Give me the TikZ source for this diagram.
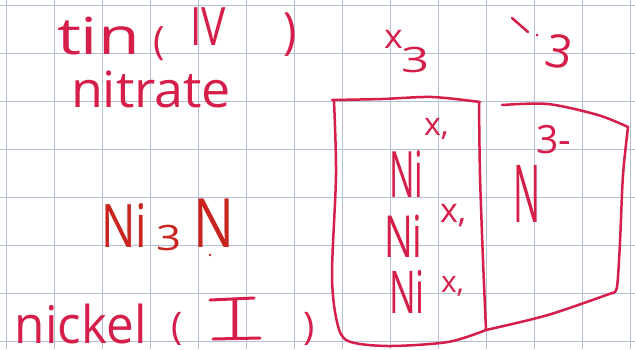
\documentclass[tikz,border=0pt]{standalone}
\usepackage{fontspec}
\setmainfont{Open Sans}
\definecolor{ink}{RGB}{214,30,74}
\definecolor{inktwo}{RGB}{200,36,32}
\definecolor{gridc}{RGB}{182,190,214}
\newcommand\hw[3]{\fontsize{#1}{#1}\selectfont\scalebox{#2}[1]{#3}}
\newcommand\nodepth[1]{\raisebox{0pt}[\height][0pt]{#1}}
\tikzset{
  hw/.style={text=ink, inner sep=0pt, outer sep=0pt, anchor=base west},
  pen/.style={draw=ink, line width=2.5pt, line cap=round, line join=round},
  gridline/.style={draw=gridc, line width=0.8pt}
}
\begin{document}
\begin{tikzpicture}[x=1pt,y=-1pt]
\useasboundingbox (0,0) rectangle (635,349);
\fill[white] (0,0) rectangle (635,349);
% grid
\foreach \i in {0,...,13} \draw[gridline] ({6+48*\i},0) -- ({6+48*\i},349);
\foreach \j in {0,...,7} \draw[gridline] (0,{5+48*\j}) -- (635,{5+48*\j});
% left column
\node[hw] (tin) at (57,54) {\hw{51}{1.33}{tin}};
\node[hw] (lpa) at (153,54) {\hw{39}{1}{(}};
\node[hw] (iv) at (190,45) {\hw{53}{0.77}{IV}};
\node[hw] (rpa) at (283,48) {\hw{50}{0.9}{)}};
\node[hw] (nitrate) at (71,107) {\hw{50}{1.04}{nitrate}};
\node[hw, text=inktwo] (nia) at (101,247) {\hw{60}{0.76}{Ni}};
\node[hw, text=inktwo] (three) at (156,250) {\hw{35}{1.25}{3}};
\node[hw, text=inktwo] (nn) at (193,247) {\hw{68}{0.8}{N}};
\fill[inktwo] (210,255) circle (1.3);
\node[hw] (nickel) at (15,343) {\hw{52}{0.95}{\nodepth{nickel}}};
\node[hw] (lpb) at (171,339) {\hw{38}{1}{\nodepth{(}}};
\node[hw, anchor=base] (one) at (235,339) {\hw{56}{1}{\nodepth{I}}};
\draw[pen, line width=3pt] (210,300) -- (254,298);
\draw[pen, line width=3pt] (213,339) -- (260,338);
\node[hw] (rpb) at (303,339) {\hw{38}{1}{\nodepth{)}}};
% top labels
\node[hw] (xa) at (384,48) {\hw{34}{1.05}{x}};
\node[hw] (xthree) at (401,72) {\hw{35}{1.4}{3}};
\draw[pen] (512,18) -- (528,32);
\fill[ink] (537,35) circle (1.5);
\node[hw, rotate=-10] (cthree) at (543,65) {\hw{46}{1}{3}};
% boxes
\draw[pen] plot[smooth] coordinates {(480,102) (432,97) (382,99) (332,100)};
\draw[pen] plot[smooth] coordinates {(334,101) (336,175) (332,275) (337,322) (348,341) (388,346) (448,342) (486,330)};
\draw[pen] plot[smooth] coordinates {(479,102) (480,175) (483,260) (486,330)};
\draw[pen] plot[smooth] coordinates {(502,105) (548,104) (598,115) (628,127)};
\draw[pen] plot[smooth] coordinates {(628,127) (623,175) (620,242) (617,287) (612,293)};
\draw[pen] plot[smooth] coordinates {(612,293) (548,315) (486,330)};
% box 1 content
\node[hw] (sa) at (424,135) {\hw{32}{1}{x,}};
\node[hw] (nib) at (389,197) {\hw{64}{0.53}{Ni}};
\node[hw] (sb) at (440,222) {\hw{34}{1}{x,}};
\node[hw] (nic) at (384,257) {\hw{58}{0.66}{Ni}};
\node[hw] (sc) at (441,292) {\hw{30}{1}{x,}};
\node[hw] (nid) at (389,313) {\hw{59}{0.6}{Ni}};
% box 2 content
\node[hw] (thmin) at (536,153) {\hw{39}{1}{3-}};
\node[hw] (nb) at (513,222) {\hw{80}{0.45}{N}};
\end{tikzpicture}
\end{document}
